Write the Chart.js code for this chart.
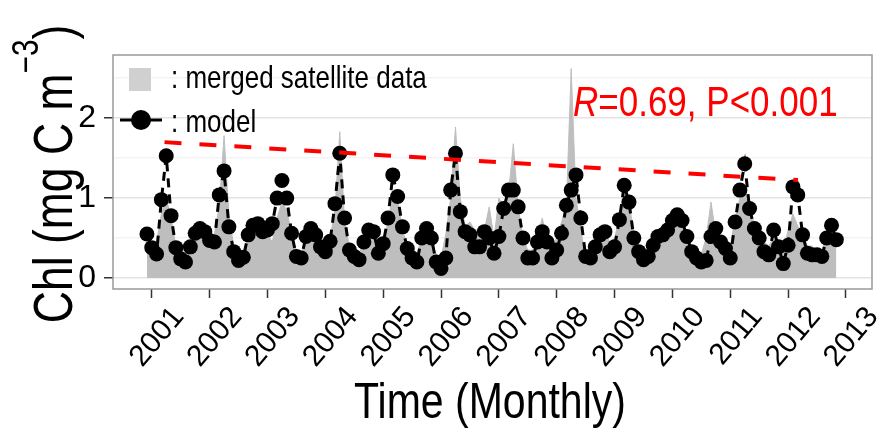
<!DOCTYPE html>
<html lang="en">
<head>
<meta charset="UTF-8">
<title>Chl: model vs merged satellite data</title>
<script src="https://cdn.jsdelivr.net/npm/chart.js"></script>
<style>
    html, body { margin: 0; padding: 0; background: #fff; }
</style>
</head>
<body>
<canvas id="chlChart" width="889" height="443"></canvas>

<script>
    // monthly series, Dec 2000 .. Nov 2012 (144 months)
    const firstYear = 2000;
    const firstMonth = 11; // December, 0-based

    const satellite = [
        0.40, 0.35, 0.45, 0.80, 1.00, 0.75, 0.40, 0.30, 0.28, 0.40, 0.55, 0.60,
        0.55, 0.50, 0.55, 0.90, 1.78, 0.80, 0.40, 0.30, 0.30, 0.50, 0.65, 0.65,
        0.60, 0.55, 0.45, 0.75, 0.95, 0.85, 0.55, 0.35, 0.30, 0.50, 0.60, 0.55,
        0.45, 0.40, 0.50, 0.85, 1.83, 0.70, 0.40, 0.30, 0.30, 0.45, 0.60, 0.55,
        0.40, 0.45, 0.70, 1.05, 1.00, 0.60, 0.40, 0.30, 0.30, 0.50, 0.55, 0.40,
        0.30, 0.25, 0.55, 1.00, 1.89, 1.00, 0.65, 0.70, 0.60, 0.60, 0.60, 0.89,
        0.50, 1.00, 0.90, 1.05, 1.68, 0.90, 0.50, 0.35, 0.35, 0.50, 0.75, 0.50,
        0.40, 0.50, 0.70, 0.90, 2.62, 1.00, 0.60, 0.25, 0.30, 0.45, 0.55, 0.60,
        0.45, 0.50, 0.75, 1.20, 0.95, 0.55, 0.40, 0.30, 0.35, 0.45, 0.55, 0.55,
        0.60, 0.75, 0.82, 0.75, 0.50, 0.40, 0.35, 0.30, 0.50, 0.95, 0.55, 0.50,
        0.35, 0.40, 0.75, 1.00, 1.10, 0.95, 0.65, 0.50, 0.45, 0.40, 0.50, 0.45,
        0.35, 0.60, 0.80, 0.65, 0.55, 0.40, 0.40, 0.15, 0.35, 0.50, 0.55, 0.55
    ];

    const model = [
        0.55, 0.38, 0.30, 0.98, 1.53, 0.78, 0.38, 0.24, 0.20, 0.39, 0.56, 0.62,
        0.58, 0.47, 0.45, 1.04, 1.34, 0.64, 0.33, 0.22, 0.26, 0.54, 0.66, 0.68,
        0.58, 0.60, 0.68, 1.00, 1.22, 1.00, 0.56, 0.27, 0.25, 0.52, 0.62, 0.54,
        0.39, 0.33, 0.46, 0.93, 1.56, 0.75, 0.35, 0.27, 0.23, 0.45, 0.60, 0.58,
        0.31, 0.43, 0.75, 1.29, 1.02, 0.64, 0.37, 0.25, 0.20, 0.50, 0.62, 0.50,
        0.20, 0.12, 0.25, 1.10, 1.56, 0.83, 0.58, 0.54, 0.39, 0.39, 0.58, 0.50,
        0.31, 0.52, 0.87, 1.10, 1.10, 0.89, 0.50, 0.25, 0.25, 0.45, 0.58, 0.45,
        0.25, 0.35, 0.56, 0.91, 1.10, 1.29, 0.75, 0.27, 0.25, 0.39, 0.54, 0.58,
        0.33, 0.39, 0.73, 1.16, 0.95, 0.50, 0.33, 0.23, 0.27, 0.41, 0.52, 0.54,
        0.60, 0.72, 0.79, 0.72, 0.52, 0.33, 0.25, 0.20, 0.22, 0.52, 0.62, 0.45,
        0.37, 0.25, 0.70, 1.10, 1.43, 0.87, 0.62, 0.50, 0.33, 0.29, 0.60, 0.39,
        0.18, 0.41, 1.14, 1.04, 0.54, 0.31, 0.29, 0.29, 0.27, 0.50, 0.66, 0.48
    ];

    // fitted trend line (start / end)
    const trendTime = [2001.22, 2012.17];
    const trendValue = [1.70, 1.225];

    const yearTicks = [2001, 2002, 2003, 2004, 2005, 2006, 2007, 2008, 2009, 2010, 2011, 2012, 2013];
    const yearLabels = ['2001', '2002', '2003', '2004', '2005', '2006', '2007', '2008', '2009', '2010', '2011', '2012', '2013'];
    const chlGrid = [0, 0.5, 1, 1.5, 2, 2.5];
    const chlLabels = ['0', '', '1', '', '2', ''];

    const FONT = '"Liberation Sans", Arial, sans-serif';

    const times = model.map((_, i) => firstYear + (firstMonth + i) / 12);
    const toPoints = (xs, ys) => ys.map((y, i) => ({ x: xs[i], y: y }));

    const isMajor = v => Math.abs(v - Math.round(v)) < 1e-6;

    // text drawn with a slight stretch, like the resized original
    function stretchedText(ctx, text, x, y, sx, sy) {
        ctx.save();
        ctx.translate(x, y);
        ctx.scale(sx, sy);
        ctx.fillText(text, 0, 0);
        ctx.restore();
    }

    const decorations = {
        id: 'decorations',
        afterDraw(chart) {
            const ctx = chart.ctx;
            const area = chart.chartArea;

            // panel border
            ctx.save();
            ctx.strokeStyle = '#999999';
            ctx.lineWidth = 1.5;
            ctx.strokeRect(area.left, area.top, area.right - area.left, area.bottom - area.top);

            // legend
            ctx.fillStyle = '#d0d0d0';
            ctx.fillRect(129, 68, 22, 23);
            ctx.strokeStyle = '#000';
            ctx.lineWidth = 3;
            ctx.beginPath();
            ctx.moveTo(120, 120);
            ctx.lineTo(162, 120);
            ctx.stroke();
            ctx.fillStyle = '#000';
            ctx.beginPath();
            ctx.arc(141, 120, 10, 0, Math.PI * 2);
            ctx.fill();

            ctx.font = '26px ' + FONT;
            ctx.textBaseline = 'alphabetic';
            ctx.textAlign = 'left';
            stretchedText(ctx, ': merged satellite data', 171, 88, 1, 1.22);
            stretchedText(ctx, ': model', 171, 132, 1, 1.22);

            // correlation note
            ctx.fillStyle = '#ff0000';
            ctx.font = 'italic 35px ' + FONT;
            stretchedText(ctx, 'R', 573, 116, 1, 1.2);
            const rw = ctx.measureText('R').width;
            ctx.font = '35px ' + FONT;
            stretchedText(ctx, '=0.69, P<0.001', 573 + rw, 116, 1, 1.2);

            // x axis title
            ctx.fillStyle = '#000';
            ctx.font = '41px ' + FONT;
            ctx.textAlign = 'center';
            stretchedText(ctx, 'Time (Monthly)', 490, 418, 1, 1.2);
            ctx.textAlign = 'left';

            // y axis title with superscript
            ctx.translate(72, 174);
            ctx.rotate(-Math.PI / 2);
            const main = 'Chl (mg C m';
            const sup = '\u22123';
            ctx.font = '42px ' + FONT;
            const w1 = ctx.measureText(main).width;
            const w3 = ctx.measureText(')').width;
            ctx.font = '28px ' + FONT;
            const w2 = ctx.measureText(sup).width;
            const sx = 1.06;
            const sy = 1.3;
            let x0 = -(w1 + w2 + w3) * sx / 2;
            ctx.font = '42px ' + FONT;
            stretchedText(ctx, main, x0, 0, sx, sy);
            ctx.font = '28px ' + FONT;
            stretchedText(ctx, sup, x0 + w1 * sx, -34, sx, sy);
            ctx.font = '42px ' + FONT;
            stretchedText(ctx, ')', x0 + (w1 + w2) * sx, 0, sx, sy);
            ctx.restore();
        }
    };

    new Chart(document.getElementById('chlChart'), {
        type: 'line',
        data: {
            datasets: [
                {
                    label: 'trend',
                    data: toPoints(trendTime, trendValue),
                    borderColor: '#ff0000',
                    borderWidth: 4,
                    borderDash: [17, 18],
                    pointRadius: 0,
                    fill: false,
                    order: 0
                },
                {
                    label: 'model',
                    data: toPoints(times, model),
                    borderColor: '#000',
                    borderWidth: 3,
                    borderDash: [9, 7],
                    pointRadius: 7.5,
                    pointBackgroundColor: '#000',
                    pointBorderColor: '#000',
                    pointBorderWidth: 0,
                    tension: 0,
                    fill: false,
                    order: 1
                },
                {
                    label: 'merged satellite data',
                    data: toPoints(times, satellite),
                    borderColor: '#bebebe',
                    borderWidth: 1,
                    backgroundColor: '#bebebe',
                    pointRadius: 0,
                    tension: 0,
                    fill: 'origin',
                    order: 2
                }
            ]
        },
        options: {
            responsive: false,
            animation: false,
            devicePixelRatio: 1,
            layout: { padding: { top: 55, right: 17, left: 0, bottom: 0 } },
            plugins: {
                legend: { display: false },
                tooltip: { enabled: false }
            },
            scales: {
                x: {
                    type: 'linear',
                    min: 2000.33,
                    max: 2013.45,
                    afterBuildTicks: s => { s.ticks = yearTicks.map(v => ({ value: v })); },
                    afterFit: s => { s.height = 154; },
                    ticks: {
                        autoSkip: false,
                        minRotation: 50,
                        maxRotation: 50,
                        padding: 2,
                        labelOffset: 27,
                        color: '#000',
                        font: { family: FONT, size: 30 },
                        callback: (v, i) => yearLabels[i]
                    },
                    grid: {
                        drawOnChartArea: false,
                        drawTicks: true,
                        tickLength: 9,
                        tickWidth: 1.5,
                        tickColor: '#333'
                    },
                    border: { display: false },
                    title: { display: false }
                },
                y: {
                    min: -0.1375,
                    max: 2.79,
                    afterBuildTicks: s => { s.ticks = chlGrid.map(v => ({ value: v })); },
                    afterFit: s => { s.width = 113; },
                    ticks: {
                        autoSkip: false,
                        padding: 8,
                        color: '#000',
                        font: { family: FONT, size: 32 },
                        callback: (v, i) => chlLabels[i]
                    },
                    grid: {
                        color: c => isMajor(c.tick.value) ? '#e4e4e4' : '#f3f3f3',
                        lineWidth: 1.5,
                        tickLength: 9,
                        tickWidth: 1.5,
                        tickColor: c => isMajor(c.tick.value) ? '#333' : 'rgba(0,0,0,0)'
                    },
                    border: { display: false }
                }
            }
        },
        plugins: [decorations]
    });
</script>
</body>
</html>
